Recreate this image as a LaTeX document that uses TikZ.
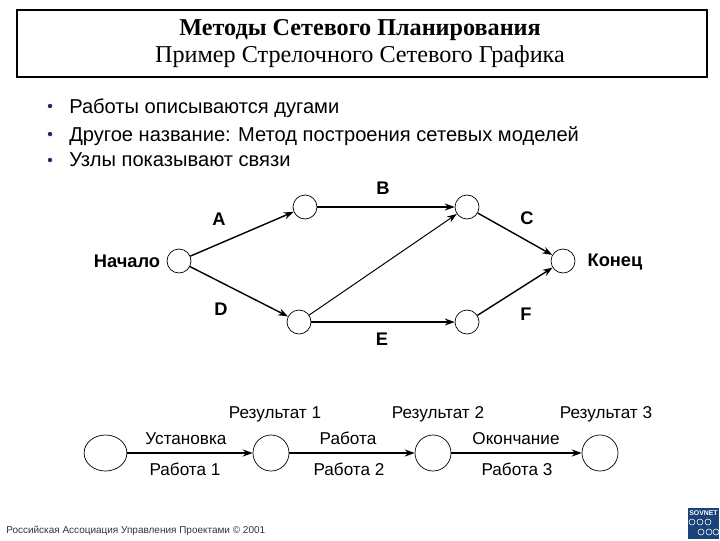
\documentclass[tikz,border=0pt]{standalone}
\usepackage{fontspec}
\setmainfont{Liberation Sans}
\newfontfamily\titlefont{Liberation Serif}
\usetikzlibrary{arrows.meta}
\usetikzlibrary{shapes.geometric}
\definecolor{logoblue}{RGB}{24,66,120}
\definecolor{dotblue}{RGB}{40,40,100}

\begin{document}
\begin{tikzpicture}[
    x=0.025cm, y=-0.025cm,
    event/.style={draw, circle, fill=white, line width=0.5pt, inner sep=0pt, minimum size=0.6cm},
    stage/.style={draw, ellipse, fill=white, line width=0.5pt, inner sep=0pt, minimum width=0.9cm, minimum height=0.9cm},
    work arrow/.style={-{Stealth[length=7pt,width=5pt]}, line width=1pt},
    label/.style={font=\fontsize{12.2}{14}\selectfont, inner sep=0pt},
    bold label/.style={font=\fontsize{13}{15}\selectfont\bfseries, inner sep=0pt},
    bullet dot/.style={circle, fill=dotblue, inner sep=0pt, minimum size=3.2pt},
    bullet line/.style={font=\fontsize{14.3}{16}\selectfont, inner sep=0pt, anchor=base west}
  ]
  \useasboundingbox (0,0) rectangle (720,540);

  \node[draw, line width=1.3pt, minimum width=17.25cm, minimum height=1.69cm, inner sep=0pt] (title_box) at (362,43.5) {};
  \node[inner sep=0pt, font=\fontsize{17.2}{20}\selectfont\titlefont\bfseries] (title_a) at (360,30) {Методы Сетевого Планирования};
  \node[inner sep=0pt, font=\fontsize{17.2}{20}\selectfont\titlefont] (title_b) at (360,57) {Пример Стрелочного Сетевого Графика};

  % bullets
  \node[bullet dot] (dot_a) at (50,106) {};
  \node[bullet dot] (dot_b) at (50,134) {};
  \node[bullet dot] (dot_c) at (50,160) {};
  \node[bullet line] (line_a) at (69,113) {Работы описываются дугами};
  \node[bullet line] (line_b) at (69,141) {Другое название: Метод построения сетевых моделей};
  \node[bullet line] (line_c) at (69,166) {Узлы показывают связи};

  % arrow network
  \node[event] (start) at (179,261) {};
  \node[event] (top_a) at (305,207) {};
  \node[event] (top_b) at (467,207) {};
  \node[event] (bot_a) at (299,322) {};
  \node[event] (bot_b) at (467,322) {};
  \node[event] (finish) at (563,261) {};

  \draw[work arrow] (start) -- (top_a);
  \draw[work arrow] (start) -- (bot_a);
  \draw[work arrow] (top_a) -- (top_b);
  \draw[work arrow, line width=0.7pt] (bot_a) -- (top_b);
  \draw[work arrow] (bot_a) -- (bot_b);
  \draw[work arrow] (top_b) -- (finish);
  \draw[work arrow] (bot_b) -- (finish);

  \node[bold label] (name_start) at (127,261) {Начало};
  \node[bold label] (name_end) at (615,262) {Конец};
  \node[bold label] (name_a) at (219,219) {A};
  \node[bold label] (name_b) at (383,188) {B};
  \node[bold label] (name_c) at (527,218) {C};
  \node[bold label] (name_d) at (221,309) {D};
  \node[bold label] (name_e) at (382,339) {E};
  \node[bold label] (name_f) at (526,314) {F};

  % chain of stages
  \node[stage, minimum width=1.07cm] (stage_a) at (105.5,453) {};
  \node[stage] (stage_b) at (271,453) {};
  \node[stage] (stage_c) at (433,453) {};
  \node[stage] (stage_d) at (600,453) {};

  \draw[work arrow, line width=1.3pt] (stage_a) -- (stage_b);
  \draw[work arrow, line width=1.3pt] (stage_b) -- (stage_c);
  \draw[work arrow, line width=1.3pt] (stage_c) -- (stage_d);

  \node[label] (res_a) at (275,414) {Результат 1};
  \node[label] (res_b) at (438,414) {Результат 2};
  \node[label] (res_c) at (606,414) {Результат 3};
  \node[label] (over_a) at (186,439) {Установка};
  \node[label] (over_b) at (348,438) {Работа};
  \node[label] (over_c) at (516,439) {Окончание};
  \node[label] (under_a) at (185,469) {Работа 1};
  \node[label] (under_b) at (349,469) {Работа 2};
  \node[label] (under_c) at (517,469) {Работа 3};

  \node[inner sep=0pt, anchor=base west, font=\fontsize{7.1}{8}\selectfont, text=black!80] (credit) at (6,533) {Российская Ассоциация Управления Проектами © 2001};

  % logo
  \fill[logoblue] (688,508) rectangle (719,539);
  \node[inner sep=0pt, text=white, font=\fontsize{4.9}{6}\selectfont\bfseries] (logo_name) at (703.5,513.5) {SOVNET};
  \foreach \px/\py in {692/522, 700/522, 708/522, 701/532, 709/532, 716/532} {
    \draw[white, line width=0.4pt] (\px,\py) circle (3);
  }
\end{tikzpicture}
\end{document}
